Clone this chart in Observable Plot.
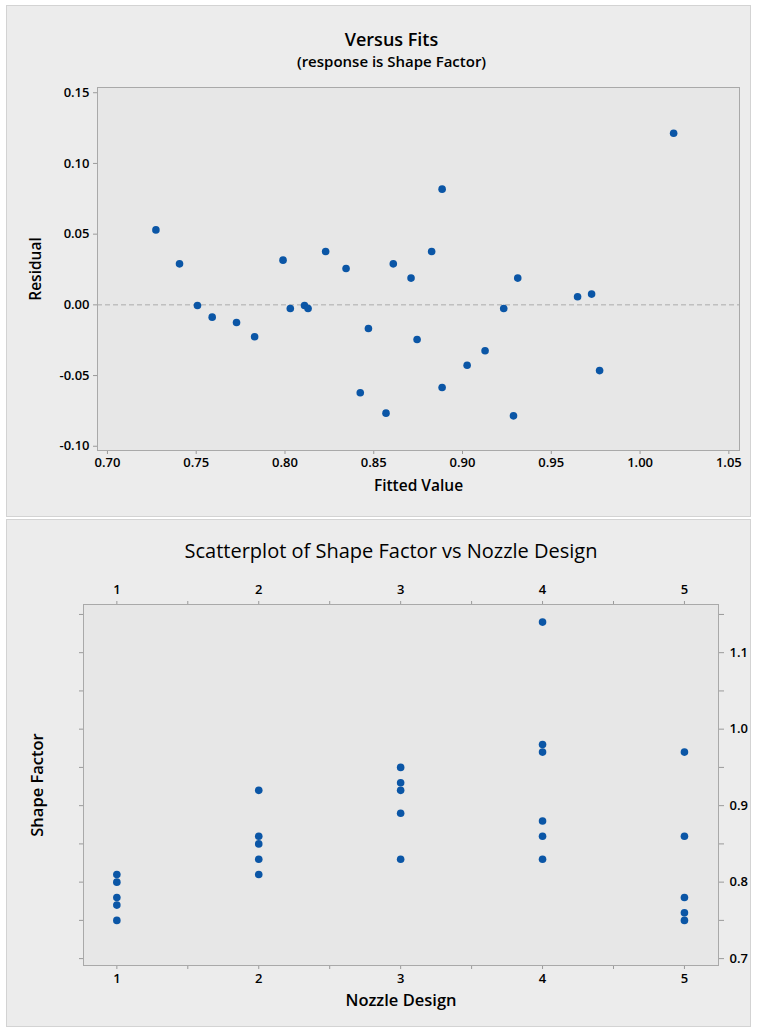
<!DOCTYPE html>
<html><head><meta charset="utf-8">
<script src="https://cdn.jsdelivr.net/npm/d3@7"></script>
<script src="https://cdn.jsdelivr.net/npm/@observablehq/plot@0.6"></script>
<style>
body{margin:0;background:#fff;width:763px;height:1027px;position:relative;overflow:hidden;font-family:"Open Sans",sans-serif}
.panel{position:absolute;background:#ececec;border:1px solid #d3d3d3;box-sizing:border-box}
#p1{left:6px;top:5px;width:745px;height:512px}
#p2{left:6px;top:519px;width:745px;height:508px}
.chart{position:absolute;left:0}
#c1{top:0}
#c2{top:519px}
</style></head><body>
<div class="panel" id="p1"></div><div class="panel" id="p2"></div>
<div class="chart" id="c1"></div><div class="chart" id="c2"></div>
<script>
// Versus Fits data
const fittedValues = [0.7273,0.7406,0.7507,0.7590,0.7727,0.7829,0.7989,0.8030,0.8110,0.8130,0.8229,0.8344,0.8424,0.8470,0.8569,0.8610,0.8710,0.8744,0.8826,0.8885,0.8885,0.9026,0.9127,0.9232,0.9287,0.9311,0.9648,0.9727,0.9772,1.0189];
const residuals = [0.053,0.029,-0.0005,-0.0087,-0.0125,-0.0226,0.0316,-0.0026,-0.0005,-0.0026,0.0377,0.0257,-0.0622,-0.0167,-0.0766,0.029,0.0189,-0.0245,0.0377,0.0818,-0.0585,-0.0427,-0.0325,-0.0026,-0.0785,0.0189,0.0057,0.0076,-0.0465,0.1214];
const fitTicks = [0.70,0.75,0.80,0.85,0.90,0.95,1.00,1.05];
const residTicks = [-0.10,-0.05,0.00,0.05,0.10,0.15];

// Scatterplot data
const nozzleDesign = [1,1,1,1,1, 2,2,2,2,2, 3,3,3,3,3, 4,4,4,4,4,4, 5,5,5,5,5];
const shapeFactor = [0.81,0.80,0.78,0.77,0.75, 0.92,0.86,0.85,0.83,0.81, 0.95,0.93,0.92,0.89,0.83, 1.14,0.98,0.97,0.88,0.86,0.83, 0.97,0.86,0.78,0.76,0.75];
const designTicks = [1,1.5,2,2.5,3,3.5,4,4.5,5];
const shapeTicks = [0.70,0.75,0.80,0.85,0.90,0.95,1.00,1.05,1.10,1.15];

const blue = "#0b56a6";
const font = "'Open Sans', sans-serif";

const fits = fittedValues.map((f,i)=>({fit:f, res:residuals[i]}));
const plot1 = Plot.plot({
  width:763, height:518,
  marginLeft:97, marginRight:24, marginTop:87, marginBottom:68,
  style:{background:"transparent", fontFamily:font, fontSize:"13px", fontWeight:600, color:"#000"},
  x:{domain:[0.6944,1.056]},
  y:{domain:[-0.103,0.1537]},
  marks:[
    Plot.frame({fill:"#e7e7e7"}),
    Plot.ruleY([0], {stroke:"#ababab", strokeDasharray:"5,3"}),
    Plot.axisX({ticks:fitTicks, tickFormat:d=>d.toFixed(2), tickSize:4, tickPadding:3, stroke:"#9a9a9a", fill:"#000", label:null}),
    Plot.axisY({ticks:residTicks, tickFormat:d=>d.toFixed(2), tickSize:4, tickPadding:4, stroke:"#9a9a9a", fill:"#000", label:null}),
    Plot.dot(fits, {x:"fit", y:"res", r:3.8, fill:blue}),
    Plot.frame({stroke:"#a9a9a9"}),
    Plot.text(["Versus Fits"], {text:d=>d, frameAnchor:"top", lineAnchor:"middle", dx:-27, dy:-47, fontSize:18, fontWeight:600}),
    Plot.text(["(response is Shape Factor)"], {text:d=>d, frameAnchor:"top", lineAnchor:"middle", dx:-27, dy:-25, fontSize:15, fontWeight:600}),
    Plot.text(["Fitted Value"], {text:d=>d, frameAnchor:"bottom", lineAnchor:"middle", dy:36, fontSize:15.5, fontWeight:600}),
    Plot.text(["Residual"], {text:d=>d, frameAnchor:"left", textAnchor:"middle", lineAnchor:"middle", dx:-61, rotate:-90, fontSize:15.5, fontWeight:600})
  ]
});
document.getElementById("c1").append(plot1);

const pts = nozzleDesign.map((d,i)=>({design:d, shape:shapeFactor[i]}));
const xfmt = d => Number.isInteger(d) ? String(d) : "";
const yfmt = d => (Math.round(d*100) % 10 === 0) ? d.toFixed(1) : "";
const plot2 = Plot.plot({
  width:763, height:508,
  marginLeft:83, marginRight:45, marginTop:85, marginBottom:62,
  style:{background:"transparent", fontFamily:font, fontSize:"13px", fontWeight:600, color:"#000"},
  x:{domain:[0.765,5.24]},
  y:{domain:[0.691,1.163]},
  marks:[
    Plot.frame({fill:"#e7e7e7"}),
    Plot.axisX({anchor:"bottom", ticks:designTicks, tickFormat:xfmt, tickSize:4, tickPadding:4, stroke:"#9a9a9a", fill:"#000", label:null}),
    Plot.axisX({anchor:"top", ticks:designTicks, tickFormat:xfmt, tickSize:4, tickPadding:7, stroke:"#9a9a9a", fill:"#000", label:null}),
    Plot.axisY({anchor:"left", ticks:shapeTicks, tickFormat:()=>"", tickSize:4, stroke:"#9a9a9a", label:null}),
    Plot.axisY({anchor:"right", ticks:shapeTicks, tickFormat:yfmt, tickSize:5, tickPadding:6, stroke:"#9a9a9a", fill:"#000", label:null}),
    Plot.dot(pts, {x:"design", y:"shape", r:3.8, fill:blue}),
    Plot.frame({stroke:"#a9a9a9"}),
    Plot.text(["Scatterplot of Shape Factor vs Nozzle Design"], {text:d=>d, frameAnchor:"top", lineAnchor:"middle", dx:-10, dy:-53, fontSize:20, fontWeight:400}),
    Plot.text(["Nozzle Design"], {text:d=>d, frameAnchor:"bottom", lineAnchor:"middle", dy:35, fontSize:16.5, fontWeight:600}),
    Plot.text(["Shape Factor"], {text:d=>d, frameAnchor:"left", textAnchor:"middle", lineAnchor:"middle", dx:-46, rotate:-90, fontSize:16.5, fontWeight:600})
  ]
});
document.getElementById("c2").append(plot2);
</script>
</body></html>
